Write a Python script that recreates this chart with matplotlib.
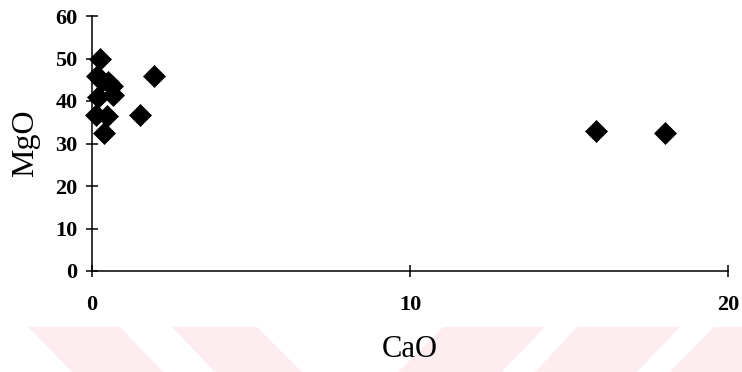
import matplotlib.pyplot as plt
from matplotlib.patches import Polygon

# CaO / MgO contents (wt %)
cao = [0.24, 0.15, 0.51, 0.33, 0.62, 0.67, 0.20, 0.12, 0.48, 0.38, 1.51, 1.95, 15.84, 18.02]
mgo = [50.0, 45.9, 44.5, 44.8, 43.5, 41.4, 41.0, 36.7, 36.5, 32.4, 36.7, 46.0, 33.0, 32.5]

x_ticks = [0, 10, 20]
y_ticks = [0, 10, 20, 30, 40, 50, 60]

W, H = 742, 372
fig = plt.figure(figsize=(W / 100, H / 100), dpi=100)

# background stripes along the bottom edge (pixel corners: top-left, top-right, bottom-right, bottom-left)
stripes = [
    [(28, 327), (120, 327), (163, 372), (72, 372)],
    [(172, 327), (257, 327), (302, 372), (215, 372)],
    [(443, 327), (545, 327), (502, 372), (398, 372)],
    [(577, 327), (680, 327), (637, 372), (535, 372)],
    [(714, 327), (760, 327), (760, 372), (670, 372)],
]
for s in stripes:
    pts = [(px / W, 1 - py / H) for px, py in s]
    fig.patches.append(Polygon(pts, closed=True, transform=fig.transFigure,
                               facecolor='#fdedf0', edgecolor='none', zorder=-5))

ax = fig.add_axes([92 / W, 1 - 271 / H, 636 / W, 255 / H])
ax.patch.set_alpha(0)
ax.set_zorder(1)

ax.scatter(cao, mgo, marker='D', s=125, color='black', edgecolors='black', linewidths=0.5,
           clip_on=False, zorder=3)

ax.set_xlim(0, 20)
ax.set_ylim(0, 60)
ax.set_xticks(x_ticks)
ax.set_yticks(y_ticks)

for side in ['top', 'right']:
    ax.spines[side].set_visible(False)
for side in ['left', 'bottom']:
    ax.spines[side].set_linewidth(1.1)

tick_font = {'family': 'Liberation Serif', 'weight': 'bold', 'size': 16}
ax.set_xticklabels([str(t) for t in x_ticks], fontdict=tick_font)
ax.set_yticklabels([str(t) for t in y_ticks], fontdict=tick_font)
ax.tick_params(axis='x', direction='inout', length=9, width=1.1, pad=13)
ax.tick_params(axis='y', direction='inout', length=9, width=1.1, pad=6)

ax.set_xlabel('CaO', family='Liberation Serif', fontsize=22, labelpad=14)
ax.set_ylabel('MgO', family='Liberation Serif', fontsize=23, labelpad=11)

plt.savefig('out.png', dpi=100)
